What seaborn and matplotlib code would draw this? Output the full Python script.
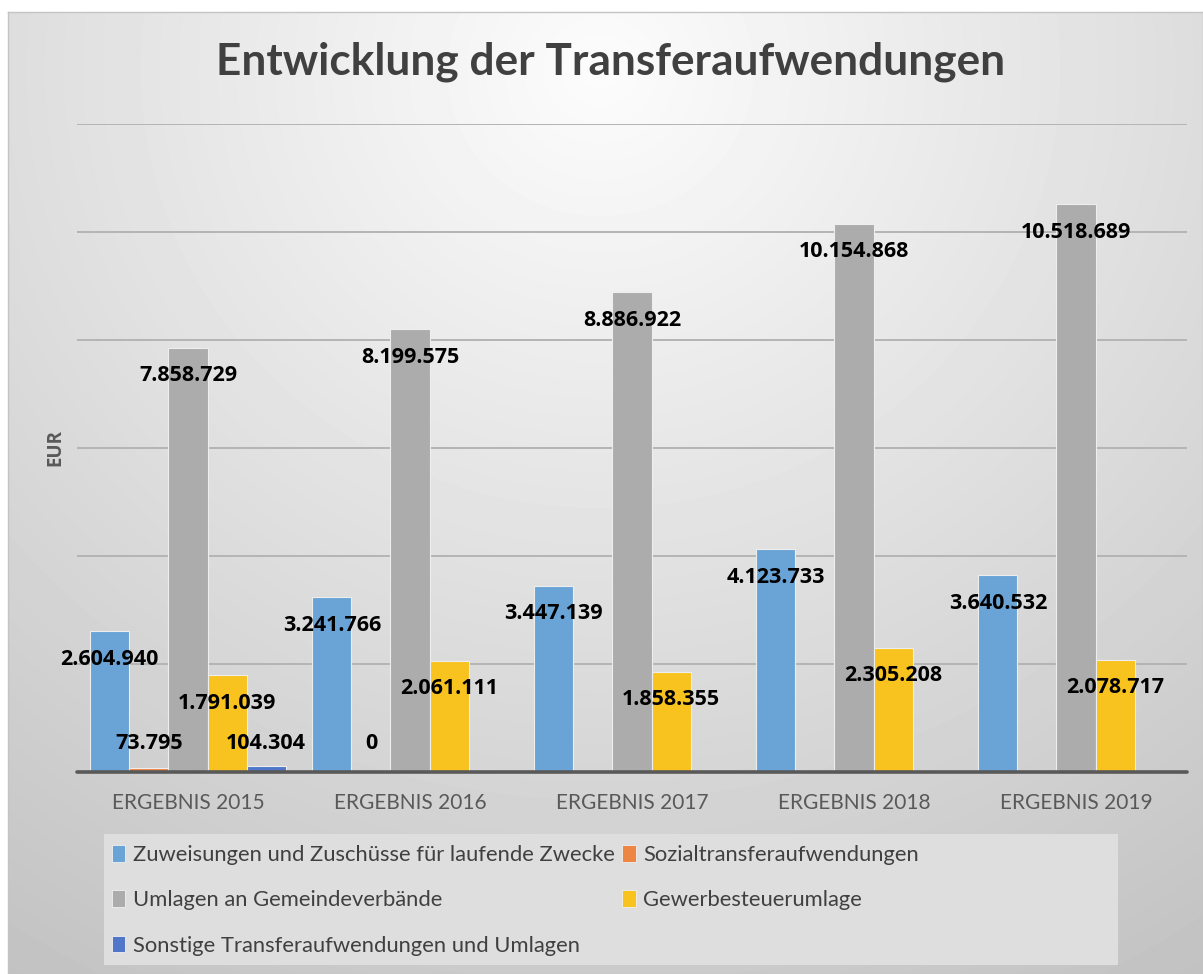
import numpy as np
import pandas as pd
import seaborn as sns
import matplotlib.pyplot as plt
from matplotlib.patches import Patch, Rectangle

# --- Daten ---
jahre = ["ERGEBNIS 2015", "ERGEBNIS 2016", "ERGEBNIS 2017", "ERGEBNIS 2018", "ERGEBNIS 2019"]
zuweisungen = [2604940, 3241766, 3447139, 4123733, 3640532]
sozialtransfer = [73795, 0, None, None, None]
umlagen = [7858729, 8199575, 8886922, 10154868, 10518689]
gewerbesteuer = [1791039, 2061111, 1858355, 2305208, 2078717]
sonstige = [104304, None, None, None, None]

serien = [
    "Zuweisungen und Zuschüsse für laufende Zwecke",
    "Sozialtransferaufwendungen",
    "Umlagen an Gemeindeverbände",
    "Gewerbesteuerumlage",
    "Sonstige Transferaufwendungen und Umlagen",
]
farben = ["#6aa3d6", "#ed8545", "#acacac", "#f8c21f", "#4f76c8"]

rows = []
for name, werte in zip(serien, [zuweisungen, sozialtransfer, umlagen, gewerbesteuer, sonstige]):
    for jahr, v in zip(jahre, werte):
        if v is not None:
            rows.append({"Jahr": jahr, "Art": name, "EUR": v})
df = pd.DataFrame(rows)

# --- Plot ---
sns.set_style("white")
plt.rcParams["font.family"] = ["Lato", "DejaVu Sans"]

W, H = 1203, 974
fig = plt.figure(figsize=(W / 100, H / 100), dpi=100, facecolor="white")

# Hintergrund mit radialem Verlauf
bg = fig.add_axes([8 / W, 0, 1 - 8 / W, (H - 12) / H], zorder=-10)
yy, xx = np.mgrid[12:H, 8:W]
r = np.hypot(xx - 600, (yy - 70) * 1.05)
grad = np.clip(252 - 0.052 * r, 190, 252)
bg.imshow(grad, cmap="gray", vmin=0, vmax=255, aspect="auto", interpolation="bilinear")
bg.set_xticks([])
bg.set_yticks([])
for s in bg.spines.values():
    s.set_color("#c4c4c4")
    s.set_linewidth(1)

ax = fig.add_axes([77 / W, (H - 772) / H, 1110 / W, 648 / H])
ax.set_facecolor("none")

sns.barplot(data=df, x="Jahr", y="EUR", hue="Art", order=jahre, hue_order=serien,
            palette=farben, saturation=1, width=0.88, errorbar=None,
            edgecolor="#eeeeee", linewidth=0.8, legend=False, ax=ax, zorder=3)

ax.set_xlim(-0.5, 4.5)
ax.set_ylim(0, 12e6)
ax.set_yticks(np.arange(2e6, 12.1e6, 2e6))
ax.set_yticklabels([])
ax.tick_params(axis="both", length=0)
ax.grid(axis="y", color="#b4b4b4", linewidth=1.4, zorder=0)
ax.set_axisbelow(True)
for s in ax.spines.values():
    s.set_visible(False)
ax.axhline(0, color="#595959", linewidth=2.6, zorder=5, clip_on=False)

ax.set_xlabel("")
ax.set_ylabel("EUR", fontsize=13.5, fontweight="bold", color="#595959", labelpad=5,
              family=["Open Sans", "DejaVu Sans"])
ax.tick_params(axis="x", labelsize=15, labelcolor="#595959", pad=15)

# Datenbeschriftungen
off = 0.52e6
for cont in ax.containers:
    for bar in cont:
        h = bar.get_height()
        if np.isnan(h):
            continue
        x = bar.get_x() + bar.get_width() / 2
        txt = f"{h:,.0f}".replace(",", ".")
        ax.text(x, max(h - off, off), txt, ha="center", va="center",
                fontsize=15.5, fontweight="bold", color="black", zorder=6,
                family=["Open Sans", "DejaVu Sans"])

fig.suptitle("Entwicklung der Transferaufwendungen", x=611 / W, y=1 - 62 / H,
             va="center", fontsize=31.8, fontweight="bold", color="#404040")

# Legende
fig.patches.append(Rectangle((104 / W, 1 - 965 / H), 1014 / W, 131 / H,
                             transform=fig.transFigure, facecolor="#dedede",
                             edgecolor="none", zorder=-5))
handles = [Patch(facecolor=c, edgecolor="#f0f0f0", linewidth=0.6) for c in farben]
order = [0, 2, 4, 1, 3]
fig.legend([handles[i] for i in order], [serien[i] for i in order],
           loc="upper left", bbox_to_anchor=(112 / W, 1 - 845 / H), ncol=2,
           frameon=False, fontsize=15.8, labelcolor="#404040",
           handlelength=0.6, handleheight=0.8, handletextpad=0.35,
           columnspacing=0.35, labelspacing=1.15, borderpad=0, borderaxespad=0)

fig.savefig("out.png", dpi=100)
